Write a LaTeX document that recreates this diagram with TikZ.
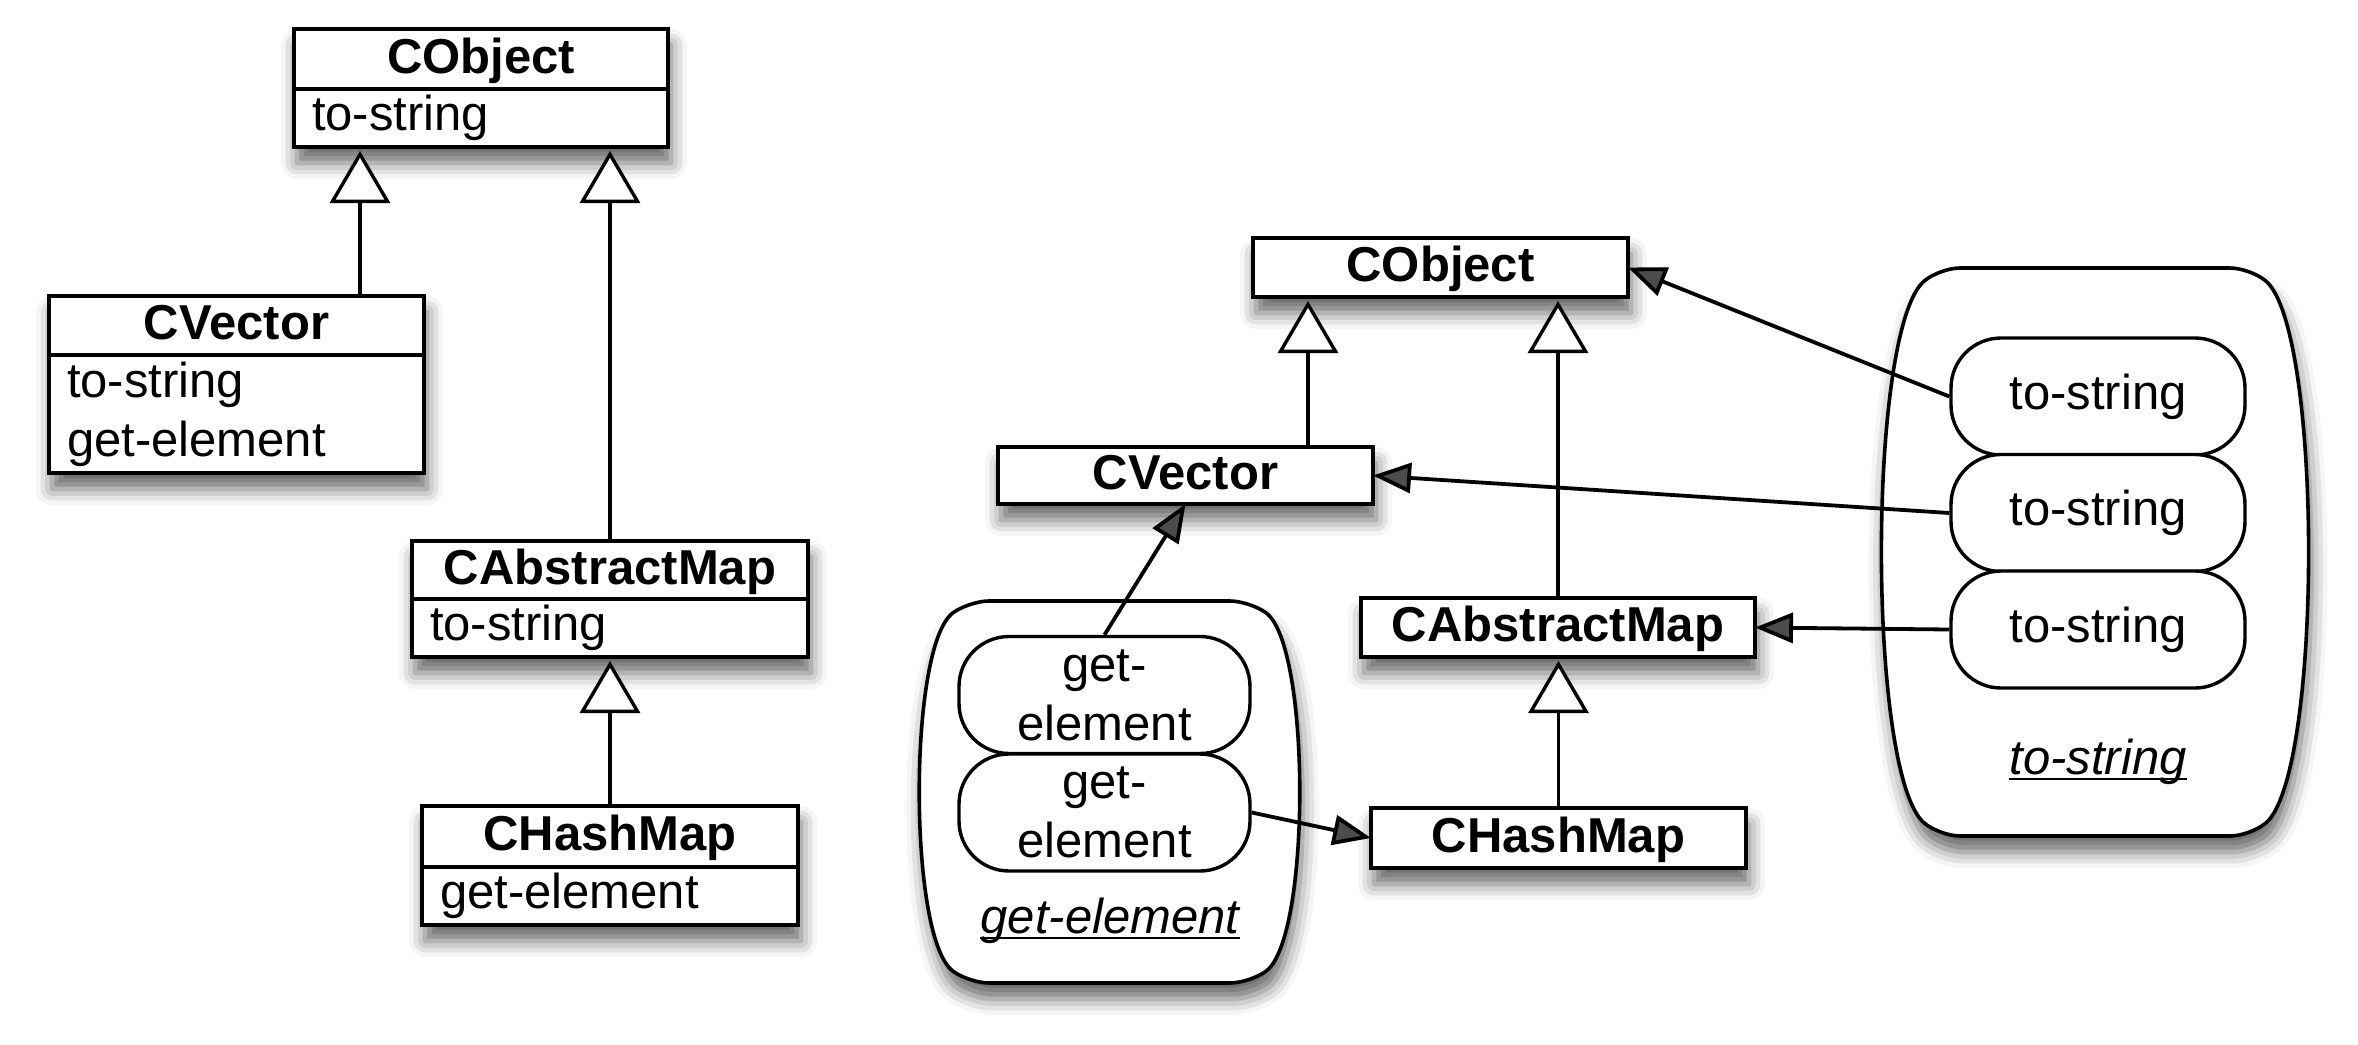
\documentclass[tikz,border=0pt]{standalone}
\usepackage{fontspec}
\setmainfont{Liberation Sans}
\usetikzlibrary{arrows.meta,backgrounds,shadows.blur}
\newcommand{\myfs}{\fontsize{24.5pt}{29.5pt}\selectfont}
\begin{document}
\begin{tikzpicture}[x=0.5pt,y=-0.5pt,
  title/.style={draw, line width=2pt, fill=white, inner sep=0pt, outer sep=0pt, font=\myfs\bfseries, text height=18pt, text depth=4pt},
  attrs/.style={draw, line width=2pt, fill=white, inner xsep=9pt, inner ysep=0pt, outer sep=0pt, font=\myfs, align=left, anchor=north},
  pill/.style={draw, line width=1.7pt, fill=white, rounded corners=25pt, minimum width=147pt, minimum height=58.5pt, inner sep=0pt, font=\myfs, align=center},
  inh/.style={line width=1.7pt, -{Triangle[open, length=26pt, width=30pt, fill=white]}, shorten >=2pt},
  uses/.style={line width=1.9pt, -{Triangle[length=19pt, width=15pt]}},
  shd/.style={blur shadow={shadow xshift=1.5pt, shadow yshift=-8pt, shadow blur radius=8pt, shadow opacity=60}},
  cont/.style={draw, line width=1.8pt, fill=white, shd, rounded corners=10pt},
  lbl/.style={font=\myfs\itshape, inner sep=0pt, anchor=base},
]
\useasboundingbox (0,0) rectangle (2358,1045);

% ---------- left diagram ----------
\node[title, minimum width=187pt, minimum height=30pt] (lobj) at (481,59) {CObject};
\node[attrs, text width=169pt, minimum width=187pt, minimum height=29pt] (lobja) at (lobj.south) {to-string};

\node[title, minimum width=187.5pt, minimum height=29.5pt] (lvec) at (236.5,325.5) {CVector};
\node[attrs, text width=169.5pt, minimum width=187.5pt, minimum height=59pt] (lveca) at (lvec.south) {to-string\\get-element};

\node[title, minimum width=198pt, minimum height=29pt] (labs) at (610,570) {CAbstractMap};
\node[attrs, text width=180pt, minimum width=198pt, minimum height=29pt] (labsa) at (labs.south) {to-string};

\node[title, minimum width=188pt, minimum height=30.5pt] (lhash) at (610,836.5) {CHashMap};
\node[attrs, text width=170pt, minimum width=188pt, minimum height=29pt] (lhasha) at (lhash.south) {get-element};

% ---------- right diagram ----------
\draw[cont] (1110,601) -- (1250,601) .. controls (1311,646) and (1311,938) .. (1250,983) -- (969,983) .. controls (908,938) and (908,646) .. (969,601) -- cycle;
\draw[cont] (2095,268) -- (2250,268) .. controls (2323,328) and (2323,776) .. (2250,836) -- (1940,836) .. controls (1867,776) and (1867,328) .. (1940,268) -- cycle;

\node[title, minimum width=187.5pt, minimum height=29.5pt] (robj) at (1440.5,267.5) {CObject};
\node[title, minimum width=187.5pt, minimum height=28.5pt] (rvec) at (1185.5,475.5) {CVector};
\node[title, minimum width=197pt, minimum height=29.5pt] (rabs) at (1558,627.5) {CAbstractMap};
\node[title, minimum width=187.5pt, minimum height=30pt] (rhash) at (1558.5,838) {CHashMap};

\node[pill, minimum width=145.5pt] (rge1) at (1104.5,695) {get-\\element};
\node[pill, minimum width=145.5pt] (rge2) at (1104.5,812.5) {get-\\element};
\node[pill] (rts1) at (2098,396.5) {to-string};
\node[pill] (rts2) at (2098,513) {to-string};
\node[pill] (rts3) at (2098,629.5) {to-string};

\node[lbl] (gelbl) at (1110,933) {get-element};
\draw[line width=1pt] ([yshift=-2.5pt]gelbl.base west) -- ([yshift=-2.5pt]gelbl.base east);
\node[lbl] (tslbl) at (2098,774) {to-string};
\draw[line width=1pt] ([yshift=-2.5pt]tslbl.base west) -- ([yshift=-2.5pt]tslbl.base east);

% ---------- shadows ----------
\begin{pgfonlayer}{background}
\path[fill=white, shd] (lobj.north west) rectangle (lobja.south east);
\path[fill=white, shd] (lvec.north west) rectangle (lveca.south east);
\path[fill=white, shd] (labs.north west) rectangle (labsa.south east);
\path[fill=white, shd] (lhash.north west) rectangle (lhasha.south east);
\path[fill=white, shd] (robj.north west) rectangle (robj.south east);
\path[fill=white, shd] (rvec.north west) rectangle (rvec.south east);
\path[fill=white, shd] (rabs.north west) rectangle (rabs.south east);
\path[fill=white, shd] (rhash.north west) rectangle (rhash.south east);
\end{pgfonlayer}

% ---------- connectors ----------
\coordinate (lx1) at (360,0);
\coordinate (rx1) at (1308,0);
\draw[inh] (lvec.north -| lx1) -- (lobja.south -| lx1);
\draw[inh] (labs.north) -- (lobja.south -| labs.north);
\draw[inh] (lhash.north) -- (labsa.south -| lhash.north);

\draw[inh] (rvec.north -| rx1) -- (robj.south -| rx1);
\draw[inh] (rabs.north) -- (robj.south -| rabs.north);
\draw[inh] (rhash.north) -- (rabs.south -| rhash.north);

\draw[uses] (rts1.west) -- (robj.east);
\draw[uses] (rts2.west) -- (rvec.east);
\draw[uses] (rts3.west) -- (rabs.east);
\draw[uses] (rge1.north) -- (rvec.south);
\draw[uses] (rge2.east) -- (rhash.west);
\end{tikzpicture}
\end{document}
